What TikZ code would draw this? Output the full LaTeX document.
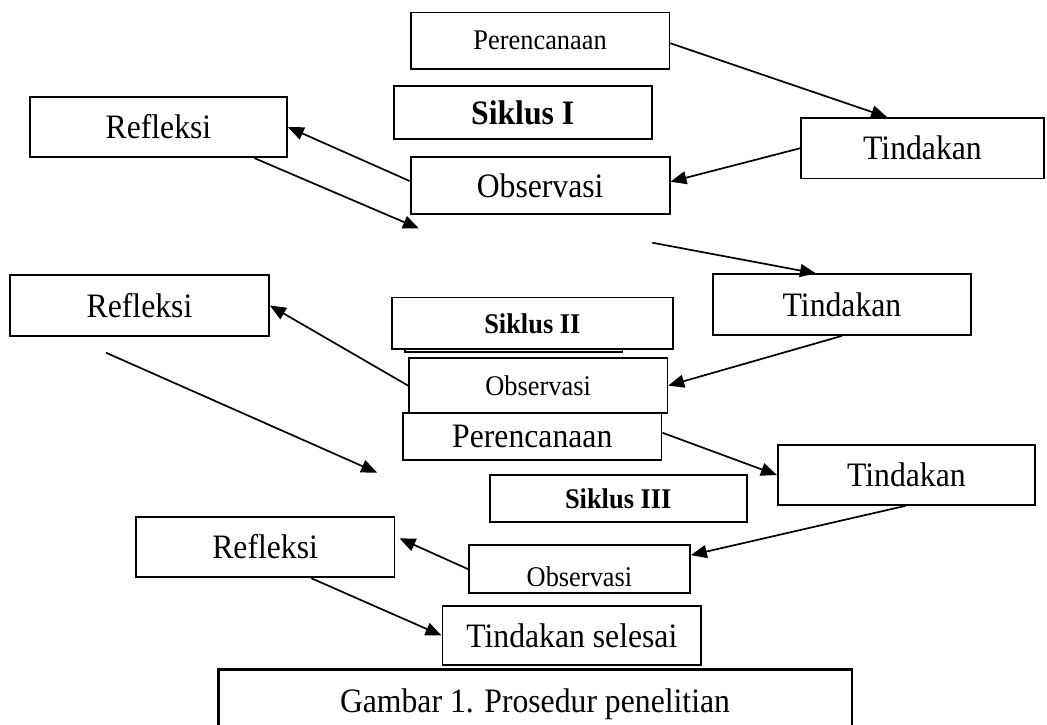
\documentclass[tikz,border=0pt]{standalone}
\usepackage{fontspec}
\setmainfont{Liberation Serif}
\usetikzlibrary{arrows.meta}
\newcommand\tallt[1]{\scalebox{1}[1.08]{#1}}
\begin{document}
\begin{tikzpicture}[x=1pt,y=-1pt,
  box/.style={draw=black, line width=1.7pt, rectangle, inner sep=0pt, fill=white},
  bigtxt/.style={font=\fontsize{31.7}{36}\selectfont},
  smalltxt/.style={font=\fontsize{26.4}{30}\selectfont},
  boldtxt/.style={font=\fontsize{26.4}{30}\selectfont\bfseries},
  conn/.style={line width=1.7pt, -{Triangle[length=16pt,width=13pt]}}
]
\useasboundingbox (0,0) rectangle (1047,724);

% boxes
\node[box,smalltxt,minimum width=258.8pt,minimum height=56.5pt] (per1) at (540.1,40.75) {\tallt{Perencanaan}};
\node[box,font=\fontsize{31.7}{36}\selectfont\bfseries,minimum width=258pt,minimum height=53pt] (sik1) at (522.7,112.5) {\tallt{Siklus I}};
\node[box,bigtxt,minimum width=257pt,minimum height=60.6pt] (ref1) at (158.45,127) {\tallt{Refleksi}};
\node[box,bigtxt,minimum width=259pt,minimum height=57.3pt] (obs1) at (540.15,185.35) {\tallt{Observasi}};
\node[box,bigtxt,minimum width=243pt,minimum height=60.5pt] (tin1) at (922.5,148.25) {\tallt{Tindakan}};

\node[box,bigtxt,minimum width=259pt,minimum height=61pt] (ref2) at (139.5,305.5) {\tallt{Refleksi}};
\node[box,minimum width=217.5pt,minimum height=52pt] (sik2b) at (513.75,326) {};
\node[box,boldtxt,minimum width=281.3pt,minimum height=51.8pt] (sik2) at (532.35,323.4) {\tallt{Siklus II}};
\node[box,smalltxt,minimum width=258.4pt,minimum height=55.3pt] (obs2) at (538.2,385.65) {\tallt{Observasi}};
\node[box,bigtxt,minimum width=258.6pt,minimum height=60.7pt] (tin2) at (842,304.65) {\tallt{Tindakan}};
\node[box,bigtxt,minimum width=258.6pt,minimum height=47.3pt] (per2) at (532.3,436.35) {\tallt{Perencanaan}};

\node[box,bigtxt,minimum width=257.2pt,minimum height=60pt] (tin3) at (906.4,475) {\tallt{Tindakan}};
\node[box,boldtxt,minimum width=256.9pt,minimum height=47.3pt] (sik3) at (618.25,498.65) {\tallt{Siklus III}};
\node[box,smalltxt,minimum width=221pt,minimum height=47.7pt,text height=34pt,text depth=0pt] (obs3) at (579.5,569.15) {\tallt{Observasi}};
\node[box,bigtxt,minimum width=258.9pt,minimum height=60.6pt] (ref3) at (265.15,547) {\tallt{Refleksi}};
\node[box,bigtxt,minimum width=258.9pt,minimum height=59pt] (ts) at (571.85,635.5) {\tallt{Tindakan selesai}};
\node[box,bigtxt,line width=2.4pt,minimum width=633.4pt,minimum height=70pt] (gam) at (535,704.3) {\tallt{Gambar 1. Prosedur penelitian}};

% free coordinates
\coordinate (c1) at (419,228.5);
\coordinate (c2) at (652.3,242.7);
\coordinate (c3) at (106,352.7);
\coordinate (c4) at (377.2,472.7);

% connectors
\draw[conn] ([yshift=-2.5pt]per1.east) -- ([xshift=87pt]tin1.north west);
\draw[conn] (tin1.west) -- ([yshift=3.6pt]obs1.east);
\draw[conn] ([yshift=4.3pt]obs1.west) -- (ref1.east);
\draw[conn] ([xshift=96pt]ref1.south) -- (c1);
\draw[conn] (c2) -- ([xshift=-26pt]tin2.north);
\draw[conn] (tin2.south) -- (obs2.east);
\draw[conn] (obs2.west) -- (ref2.east);
\draw[conn] (c3) -- (c4);
\draw[conn] ([yshift=3.6pt]per2.east) -- (tin3.west);
\draw[conn] ([xshift=-1pt]tin3.south) -- ([yshift=14pt]obs3.east);
\draw[conn] (obs3.west) -- ([xshift=4pt,yshift=8.7pt]ref3.east);
\draw[conn] ([xshift=46pt]ref3.south) -- (ts.west);
\end{tikzpicture}
\end{document}
